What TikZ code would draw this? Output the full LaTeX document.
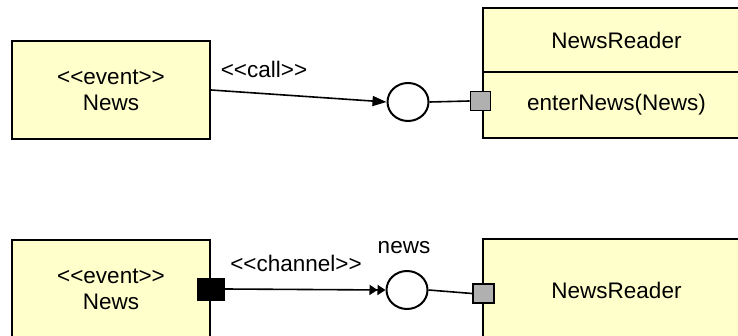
\documentclass[tikz,border=0pt]{standalone}
\usepackage{fontspec}
\setmainfont{Liberation Sans}
\usetikzlibrary{arrows.meta,shapes.geometric}
\definecolor{boxfill}{HTML}{FFFFCC}
\definecolor{portgray}{HTML}{B0B0B0}
\tikzset{
  umlbox/.style={draw=black, line width=2pt, fill=boxfill, inner sep=0pt, align=center, font=\fontsize{22.5}{26}\selectfont},
  iface/.style={draw=black, line width=2pt, fill=white, ellipse, inner sep=0pt, minimum width=41pt, minimum height=38pt},
  portbox/.style={draw=black, line width=1.8pt, fill=portgray, inner sep=0pt},
  blackport/.style={draw=black, fill=black, inner sep=0pt},
  conn/.style={line width=1.6pt, draw=black},
  lbl/.style={inner sep=0pt, font=\fontsize{22.5}{26}\selectfont},
}
\begin{document}
\begin{tikzpicture}[x=1pt,y=-1pt]
\useasboundingbox (0,0) rectangle (738,336);
\clip (0,0) rectangle (738,336);
\fill[white] (0,0) rectangle (738,336);
% top row
\node[umlbox, minimum width=198pt, minimum height=98pt] (news1) at (111,90) {<{}<event>{}>\\News};
\node[umlbox, minimum width=267pt, minimum height=64pt] (nr1name) at (616.5,40) {NewsReader};
\node[umlbox, minimum width=267pt, minimum height=66pt] (nr1ops) at (616.5,105) {enterNews(News)};
\node[iface] (c1) at (408,102) {};
\node[portbox, minimum width=20pt, minimum height=19pt] (p1) at (480.5,101) {};
\node[lbl] (call) at (264,69) {<{}<call>{}>};
\draw[conn, -{Triangle[length=14pt,width=10pt]}] (news1.east) -- (c1.west);
\draw[conn] (c1.east) -- (p1.west);
% bottom row
\node[umlbox, minimum width=198pt, minimum height=98pt] (news2) at (111,289) {<{}<event>{}>\\News};
\node[umlbox, minimum width=267pt, minimum height=102pt] (nr2) at (616.5,290) {NewsReader};
\node[iface] (c2) at (407,290) {};
\node[portbox, minimum width=21pt, minimum height=19pt] (p2) at (483.5,293.5) {};
\node[blackport, minimum width=27pt, minimum height=22pt] (bp) at (211,289) {};
\node[lbl] (chan) at (296,263) {<{}<channel>{}>};
\node[lbl] (newslbl) at (404,248) {news};
\draw[conn, -{Triangle[length=8pt,width=10pt]Triangle[length=8pt,width=10pt]}] (bp.east) -- (c2.west);
\draw[conn] (c2.east) -- (p2.west);
\end{tikzpicture}
\end{document}
